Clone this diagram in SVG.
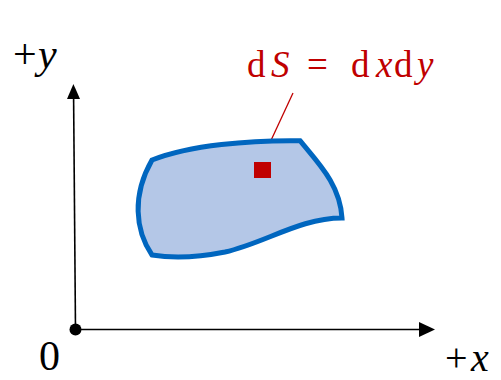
<svg xmlns="http://www.w3.org/2000/svg" width="501" height="380" viewBox="0 0 501 380">
<style>
.ax{stroke:#000;stroke-width:1.6;fill:none}
.red{fill:#c00000}
text{font-family:'Liberation Serif','Times New Roman','DejaVu Serif',serif}
</style>
<rect width="501" height="380" fill="#fff"/>
<g id="connectors">
<line class="ax" x1="75.5" y1="329.5" x2="73.6" y2="97"/>
<polygon points="73.4,84 80,99 67,99" fill="#000"/>
<line class="ax" x1="75.5" y1="329.5" x2="421" y2="329.5"/>
<polygon points="435,329.5 419,322 419,337" fill="#000"/>
<line x1="267" y1="149" x2="293" y2="93" stroke="#c00000" stroke-width="1.3"/>
</g>
<g id="origin">
<circle cx="75.5" cy="329.5" r="6" fill="#000"/>
<text x="39" y="370" font-size="42" fill="#000">0</text>
</g>
<g id="region">
<path d="M152,160 C190,145 250,140 300,140.7 C320,165 340,185 342,218 C300,218 265,243 225,252 C195,258 170,258 152,255 C135,230 132,195 152,160 Z" fill="#b4c7e7" stroke="#0066bf" stroke-width="5" stroke-linejoin="miter"/>
</g>
<g id="dS">
<rect x="254" y="162" width="17" height="16" fill="#c00000"/>
</g>
<g id="label-dS">
<text class="red" y="77" font-size="37"><tspan x="247">d</tspan><tspan font-style="italic" x="271">S</tspan><tspan x="307">=</tspan><tspan x="351">d</tspan><tspan font-style="italic" x="376">x</tspan><tspan x="394">d</tspan><tspan font-style="italic" x="417">y</tspan></text>
</g>
<g id="label-y">
<text y="68" font-size="42" fill="#000"><tspan x="13">+</tspan><tspan font-style="italic" x="38">y</tspan></text>
</g>
<g id="label-x">
<text y="371" font-size="40" fill="#000"><tspan x="445">+</tspan><tspan font-style="italic" x="471">x</tspan></text>
</g>
</svg>
